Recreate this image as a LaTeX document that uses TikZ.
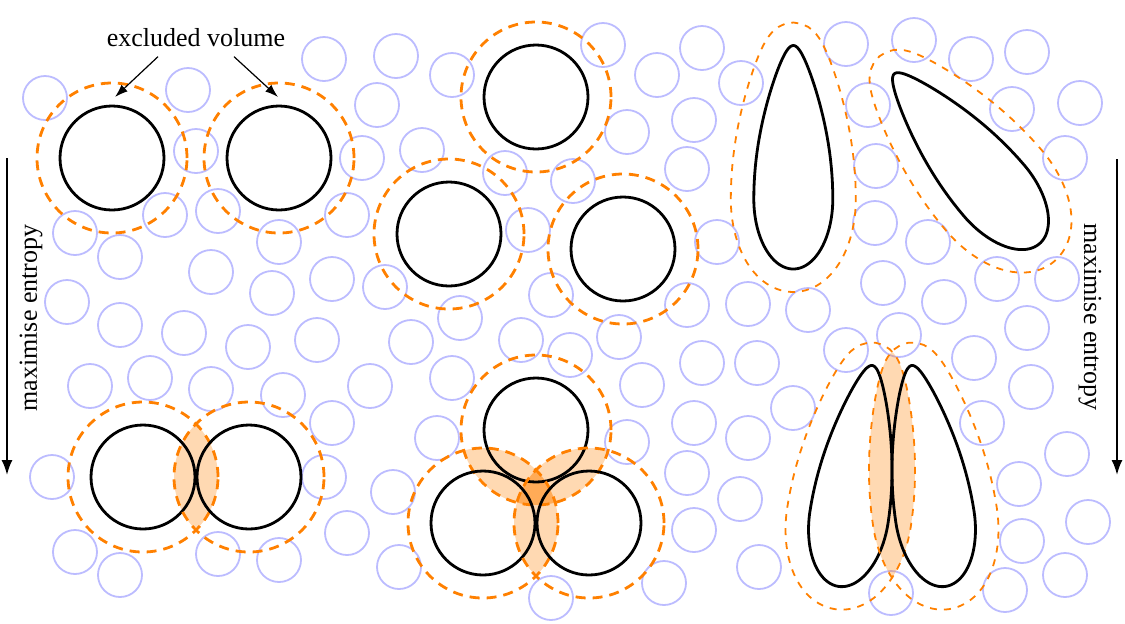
\documentclass[tikz,border=0pt]{standalone}
\usepackage{fontspec}
\setmainfont{Liberation Serif}
\usetikzlibrary{arrows.meta}
\definecolor{AgentBlue}{RGB}{188,188,255}
\definecolor{ShellOrange}{RGB}{255,128,0}

% teardrop outline grown by #1 (units of 10; widest point at origin, tip pointing up)
\newcommand{\droppath}[1]{plot[domain=-90:90,samples=61,variable=\t]
    ({10*(upx(\t)+#1*15.35*sin(\t)/upv(\t))},{10*(15.35*cos(\t)+#1*updx(\t)/upv(\t))})
  -- plot[domain=90:270,samples=61,variable=\t]
    ({10*(3.95*sin(\t)+#1*7*sin(\t)/lov(\t))},{10*(7*cos(\t)+#1*3.95*cos(\t)/lov(\t))}) -- cycle}

\begin{document}
\begin{tikzpicture}[
  x=0.5pt,y=0.5pt,
  declare function={
    upx(\t)=3.95*sin(\t)*(1-0.38*cos(\t)*cos(\t));
    updx(\t)=3.95*cos(\t)*(1-0.38*cos(\t)*cos(\t)+0.76*sin(\t)*sin(\t));
    upv(\t)=sqrt(updx(\t)*updx(\t)+235.62*sin(\t)*sin(\t));
    lov(\t)=sqrt(15.6*cos(\t)*cos(\t)+49*sin(\t)*sin(\t));
  },
  agent/.style={draw=AgentBlue,line width=0.9pt},
  body/.style={draw=black,line width=1.4pt},
  shell/.style={draw=ShellOrange,line width=1.4pt,dash pattern=on 5pt off 3.5pt},
  dropshell/.style={draw=ShellOrange,line width=0.9pt,dash pattern=on 3.5pt off 3.5pt},
  overlap/.style={fill=ShellOrange,fill opacity=0.3},
  pointer/.style={-{Latex[length=6.5pt,width=4.5pt]},line width=0.6pt},
  entropy/.style={-{Latex[length=7.5pt,width=5.5pt]},line width=1pt},
  lbl/.style={font=\fontsize{13}{15}\selectfont,inner sep=0pt}
]
\useasboundingbox (0,0) rectangle (1125,-623);

% depletants
\foreach \x/\y in {45/98,188/90,324/59,377/105,362/158,196/151,75/233,165/215,218/211,347/215,
  120/257,67/302,211/272,279/242,332/279,272/293,120/325,184/333,248/347,317/340,
  90/386,150/378,211/389,283/395,370/386,332/423,52/477,324/477,393/492,347/533,
  75/552,120/575,218/554,279/560,399/567,
  396/56,452/75,422/150,603/45,657/75,702/48,741/83,627/132,694/120,687/169,
  505/173,573/181,528/230,717/242,385/287,551/295,687/305,460/318,411/342,521/340,
  570/355,619/337,452/378,437/438,642/385,627/442,702/363,694/423,687/473,740/499,
  694/530,551/598,664/583,
  846/44,914/40,971/59,1027/52,868/105,1012/109,1080/103,876/166,1065/158,875/223,
  928/242,883/283,944/302,997/279,1057/279,748/304,808/310,899/335,1027/328,846/350,
  757/363,974/358,1031/387,793/408,982/423,748/438,1067/454,1019/484,1088/522,1022/541,
  759/567,1065/575,891/593,1005/590}
  \draw[agent] (\x,-\y) circle[radius=22];

% overlap of excluded volumes
\begin{scope}
  \clip (143,-477) circle[radius=75];
  \fill[overlap] (249,-477) circle[radius=75];
\end{scope}
\begin{scope}
  \clip (536,-430) circle[radius=75];
  \fill[overlap] (483,-523) circle[radius=75];
\end{scope}
\begin{scope}
  \clip (536,-430) circle[radius=75];
  \fill[overlap] (589,-523) circle[radius=75];
\end{scope}
\begin{scope}
  \clip (483,-523) circle[radius=75];
  \fill[overlap] (589,-523) circle[radius=75];
\end{scope}
\begin{scope}
  \clip[shift={(849,-517.2)},rotate=-8.75] \droppath{2.3};
  \fill[overlap,shift={(935,-517.2)},rotate=8.75] \droppath{2.3};
\end{scope}

% spheres
\foreach \x/\y in {112/158,279/158,536/97,449/234,623/249,143/477,249/477,536/430,483/523,589/523} {
  \draw[body] (\x,-\y) circle[radius=52];
  \draw[shell] (\x,-\y) circle[radius=75];
}

% drops
\foreach \x/\y/\a in {793.3/199/0,994/190.5/40.5,849/517.2/-8.75,935/517.2/8.75} {
  \draw[body,shift={(\x,-\y)},rotate=\a] \droppath{0};
  \draw[dropshell,shift={(\x,-\y)},rotate=\a] \droppath{2.3};
}

% labels
\node[lbl,anchor=base] (evlabel) at (196,-46) {excluded volume};
\coordinate (evL) at (115,-97);
\coordinate (evR) at (278,-97);
\draw[pointer] ([xshift=-19pt,yshift=-5pt]evlabel.south) -- (evL);
\draw[pointer] ([xshift=19pt,yshift=-5pt]evlabel.south) -- (evR);

\coordinate (lTop) at (7,-158);
\coordinate (lEnd) at (7,-475);
\draw[entropy] (lTop) -- (lEnd);
\node[lbl,rotate=90] (lText) at (31,-318) {maximise entropy};
\coordinate (rTop) at (1117,-159);
\coordinate (rEnd) at (1117,-475);
\draw[entropy] (rTop) -- (rEnd);
\node[lbl,rotate=-90] (rText) at (1090,-317) {maximise entropy};
\end{tikzpicture}
\end{document}
